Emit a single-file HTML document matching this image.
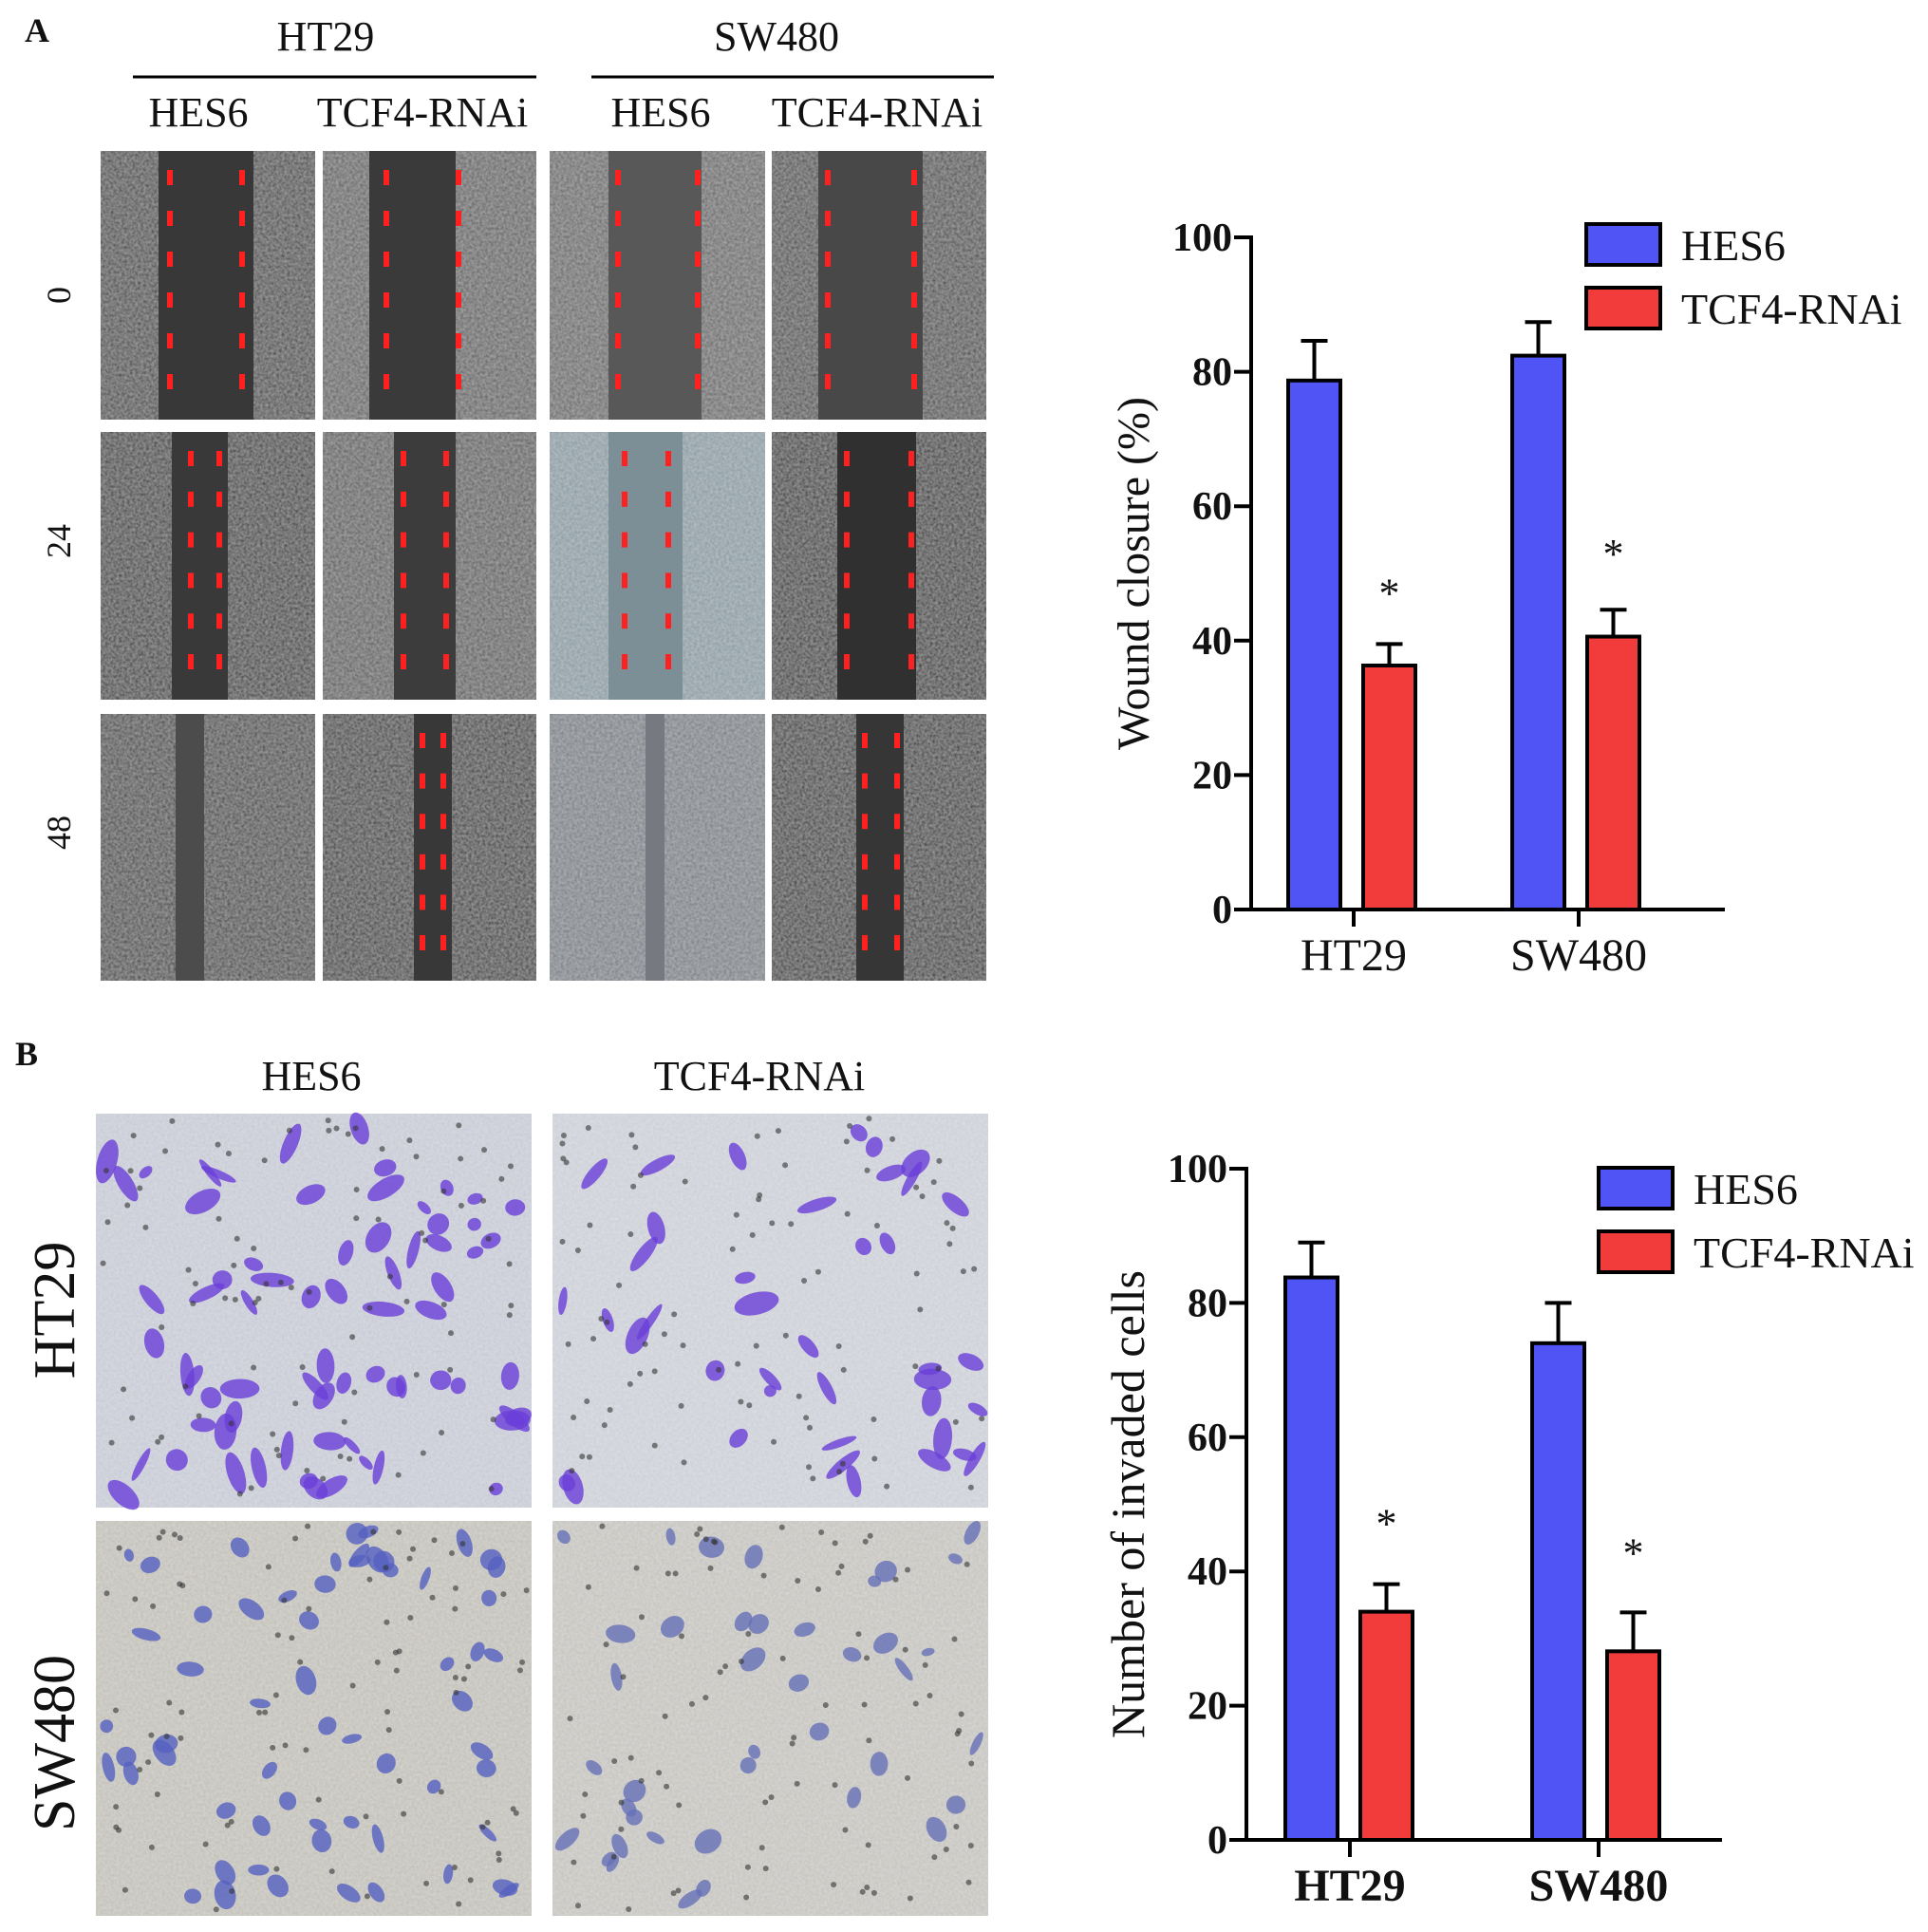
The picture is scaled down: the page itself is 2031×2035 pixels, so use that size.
<!DOCTYPE html>
<html><head><meta charset="utf-8">
<style>
html,body{margin:0;padding:0;background:#fff;}
svg{display:block;}
text{font-family:"Liberation Serif","Times New Roman",serif;fill:#111;}
</style></head>
<body>
<svg id="fig" width="2031" height="2035" viewBox="0 0 2031 2035" xmlns="http://www.w3.org/2000/svg">
<defs>
<filter id="grain" x="0" y="0" width="100%" height="100%">
<feTurbulence type="fractalNoise" baseFrequency="0.35" numOctaves="2" seed="3" result="n"/>
<feColorMatrix in="n" type="matrix" values="0 0 0 0 1  0 0 0 0 1  0 0 0 0 1  0 0 0 0.35 -0.05" result="w"/>
<feComposite in="w" in2="SourceGraphic" operator="in" result="wc"/>
<feMerge><feMergeNode in="SourceGraphic"/><feMergeNode in="wc"/></feMerge>
</filter>
</defs>
<g id="panelA"></g>
<g id="panelB"></g>
<g id="chartA"></g>
<g id="chartB"></g>
</svg>
<script>
// ---- Chart data ----
const categories = ["HT29", "SW480"];
const seriesNames = ["HES6", "TCF4-RNAi"];
const woundHES6 = [78.7, 82.4];
const woundHES6Err = [5.9, 5.0];
const woundTCF4 = [36.3, 40.6];
const woundTCF4Err = [3.2, 4.0];
const invHES6 = [83.8, 74.0];
const invHES6Err = [5.2, 6.0];
const invTCF4 = [34.0, 28.1];
const invTCF4Err = [4.1, 5.8];
const yTicks = [0, 20, 40, 60, 80, 100];

const NS = "http://www.w3.org/2000/svg";
function mk(parent, tag, attrs, txt){
  const e = document.createElementNS(NS, tag);
  for (const k in attrs) e.setAttribute(k, attrs[k]);
  if (txt !== undefined) e.textContent = txt;
  parent.appendChild(e);
  return e;
}

function drawChart(gid, cfg){
  const g = document.getElementById(gid);
  const yScale = v => cfg.y0 - (v / 100) * (cfg.y0 - cfg.y100);
  const yl = mk(g, "text", {x:0, y:0, "font-size":cfg.ylSize, "text-anchor":"middle",
    transform:`translate(${cfg.ax-108},${(cfg.y0+cfg.y100)/2}) rotate(-90)`}, cfg.ylabel);
  
  
  yTicks.forEach(t => {
    const y = yScale(t);
    const tl = mk(g, "line", {x1:cfg.ax-18, x2:cfg.ax, y1:y, y2:y, stroke:"#000", "stroke-width":4});
    
    
    const tx = mk(g, "text", {x:cfg.ax-20, y:y+14, "font-size":42, "font-weight":"bold", "text-anchor":"end"}, String(t));
    
    
  });
  const series = [[cfg.a, cfg.aErr, "#5154f5"], [cfg.b, cfg.bErr, "#f23c3c"]];
  categories.forEach((c, i) => {
    series.forEach((s, j) => {
      const x = cfg.barX[i][j];
      const v = s[0][i], e = s[1][i];
      const top = yScale(v), et = yScale(v + e);
      const cx = x + cfg.bw/2;
      const el = mk(g, "line", {x1:cx, x2:cx, y1:top, y2:et, stroke:"#000", "stroke-width":4});
      
      
      const ec = mk(g, "line", {x1:cx-14, x2:cx+14, y1:et, y2:et, stroke:"#000", "stroke-width":4});
      
      
      const r = mk(g, "rect", {x:x, y:top, width:cfg.bw, height:cfg.y0-top, fill:s[2], stroke:"#000", "stroke-width":4});
      
      
      if (j === 1){
        const st = mk(g, "text", {x:cx, y:et - cfg.starGap[i] + 26, "font-size":44, "text-anchor":"middle", fill:"#333"}, "*");
        
        
      }
    });
    const tx = cfg.tickX[i];
    const xt = mk(g, "line", {x1:tx, x2:tx, y1:cfg.y0, y2:cfg.y0+18, stroke:"#000", "stroke-width":4});
    
    
    const xl = mk(g, "text", {x:tx, y:cfg.y0+64, "font-size":48, "font-weight":cfg.xBold?"bold":"normal", "text-anchor":"middle"}, c);
    
    
  });
  const ya = mk(g, "line", {x1:cfg.ax, x2:cfg.ax, y1:cfg.y100-2, y2:cfg.y0+2, stroke:"#000", "stroke-width":4});
  
  
  const xa = mk(g, "line", {x1:cfg.ax-18, x2:cfg.axEnd, y1:cfg.y0, y2:cfg.y0, stroke:"#000", "stroke-width":4});
  
  
  const cols = ["#5154f5", "#f23c3c"];
  seriesNames.forEach((n, k) => {
    const ly = cfg.legY[k];
    const lr = mk(g, "rect", {x:cfg.legX, y:ly, width:78, height:43, fill:cols[k], stroke:"#000", "stroke-width":4});
    
    
    const lt = mk(g, "text", {x:cfg.legX+100, y:ly+38, "font-size":46}, n);
    
    
  });
}

drawChart("chartA", {ax:1318, axEnd:1817, y0:958, y100:250, bw:55,
  barX:[[1357,1436],[1593,1672]], tickX:[1426,1663], a:woundHES6, aErr:woundHES6Err, b:woundTCF4, bErr:woundTCF4Err,
  ylabel:"Wound closure (%)", ylSize:48, legX:1671, legY:[236,303], starGap:[65,70], xBold:false});
drawChart("chartB", {ax:1313, axEnd:1814, y0:1938, y100:1231, bw:55,
  barX:[[1354,1433],[1614,1693]], tickX:[1422,1684], a:invHES6, aErr:invHES6Err, b:invTCF4, bErr:invTCF4Err,
  ylabel:"Number of invaded cells", ylSize:50, legX:1684, legY:[1230,1297], starGap:[75,74], xBold:true});

// ---- Panel A images (decorative) ----
(function(){
  const g = document.getElementById("panelA");
  const cols = [[106,332],[340,565],[579,806],[813,1039]];
  const rows = [[159,442],[455,737],[752,1033]];
  const bg = [["#555","#6a6a6a","#707070","#5a5a5a"],["#4e4e4e","#666","#8e9ea6","#4a4a4a"],["#555","#4e4e4e","#80848a","#4c4c4c"]];
  const wc = [["#383838","#3a3a3a","#585858","#484848"],["#393939","#3c3c3c","#7c8e96","#303030"],["#4c4c4c","#383838","#767a80","#363636"]];
  const wounds = [[[167,267],[389,480],[641,739],[862,972]],[[181,240],[415,480],[641,719],[882,965]],[[185,215],[436,476],[680,700],[902,952]]];
  const dashes = [[[179,255],[407,483],[651,735],[872,963]],[[201,231],[425,470],[658,704],[892,960]],[null,[445,467],null,[911,945]]];
  rows.forEach((r,ri)=>cols.forEach((c,ci)=>{
    const p = mk(g,"rect",{x:c[0],y:r[0],width:c[1]-c[0],height:r[1]-r[0],fill:bg[ri][ci],filter:"url(#grain)"});
    
    
    const w = wounds[ri][ci];
    const wr = mk(g,"rect",{x:w[0],y:r[0],width:w[1]-w[0],height:r[1]-r[0],fill:wc[ri][ci]});
    
    
    const d = dashes[ri][ci];
    if(d){
      const n = 6, y1 = r[0]+28, y2 = r[1]-40, step=(y2-y1)/(n-1);
      d.forEach(dx=>{
        for(let k=0;k<n;k++){
          const dr = mk(g,"rect",{x:dx-3,y:y1+k*step-8,width:6,height:16,fill:"#ff2020"});
          
          
        }
      });
    }
  }));
  const T = (x,y,s,t,name,extra)=>{const e=mk(g,"text",Object.assign({x:x,y:y,"font-size":s,"text-anchor":"middle"},extra||{}),t);return e;};
  T(39,44,36,"A","panel-a-label",{"font-weight":"bold"});
  T(343,53,44,"HT29","header-ht29");
  T(818,53,44,"SW480","header-sw480");
  const l1=mk(g,"line",{x1:140,x2:565,y1:81,y2:81,stroke:"#000","stroke-width":3});
  
  const l2=mk(g,"line",{x1:623,x2:1047,y1:81,y2:81,stroke:"#000","stroke-width":3});
  
  T(209,133,44,"HES6","col-hes6");
  T(445,133,44,"TCF4-RNAi","col-tcf4");
  T(696,133,44,"HES6","col-hes6");
  T(924,133,44,"TCF4-RNAi","col-tcf4");
  [["0",311],["24",570],["48",877]].forEach(a=>T(0,0,36,a[0],"time-label",{transform:`translate(74,${a[1]}) rotate(-90)`}));
})();

// ---- Panel B images (decorative) ----
(function(){
  const g = document.getElementById("panelB");
  const cols=[[101,560],[582,1041]], rows=[[1173,1588],[1602,2018]];
  const bg=[["#c8cbd6","#cdd0d8"],["#c3c1b9","#c6c5c0"]];
  const cell=[["#6a3fd8","#6a3fd8"],["#5560c0","#6670b8"]];
  const counts=[[70,40],[60,40]];
  let s=12345; const rnd=()=>{s=(s*1103515245+12345)%2147483648;return s/2147483648;};
  rows.forEach((r,ri)=>cols.forEach((c,ci)=>{
    const p=mk(g,"rect",{x:c[0],y:r[0],width:c[1]-c[0],height:r[1]-r[0],fill:bg[ri][ci],filter:"url(#grain)"});
    
    
    for(let k=0;k<counts[ri][ci];k++){
      const cx=c[0]+10+rnd()*(c[1]-c[0]-20), cy=r[0]+10+rnd()*(r[1]-r[0]-20);
      const e=mk(g,"ellipse",{cx:cx,cy:cy,rx:6+rnd()*(ri?10:18),ry:4+rnd()*8,fill:cell[ri][ci],opacity:0.8,transform:`rotate(${rnd()*180} ${cx} ${cy})`});
      
      
    }
    for(let k=0;k<90;k++){
      const d=mk(g,"circle",{cx:c[0]+5+rnd()*(c[1]-c[0]-10),cy:r[0]+5+rnd()*(r[1]-r[0]-10),r:3,fill:"#333",opacity:0.6});
      
      
    }
  }));
  const T=(x,y,sz,t,name,extra)=>{const e=mk(g,"text",Object.assign({x:x,y:y,"font-size":sz,"text-anchor":"middle"},extra||{}),t);return e;};
  T(28,1122,36,"B","panel-b-label",{"font-weight":"bold"});
  T(328,1148,44,"HES6","col-hes6");
  T(800,1148,44,"TCF4-RNAi","col-tcf4");
  T(0,0,62,"HT29","row-ht29",{transform:"translate(78,1380) rotate(-90)"});
  T(0,0,62,"SW480","row-sw480",{transform:"translate(78,1836) rotate(-90)"});
})();
</script>
</body></html>
